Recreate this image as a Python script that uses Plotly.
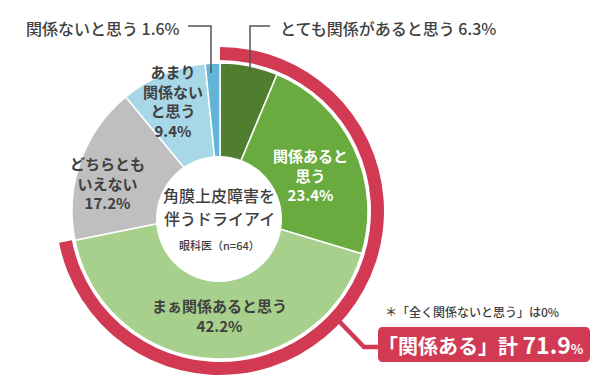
import plotly.graph_objects as go

W, H = 602, 385

# ---- data ----
categories = ['とても関係があると思う', '関係あると思う', 'まぁ関係あると思う',
              'どちらともいえない', 'あまり関係ないと思う', '関係ないと思う']
values = [6.3, 23.4, 42.2, 17.2, 9.4, 1.6]
slice_labels = ['', '関係あると<br>思う', 'まぁ関係あると思う', 'どちらとも<br>いえない',
                'あまり<br>関係ない<br>と思う', '']
related_total = 71.9
related_rest = round(100 - related_total, 1)
title_lines = ['角膜上皮障害を', '伴うドライアイ']
sample_note = '眼科医（n=64）'
zero_note = '＊「全く関係ないと思う」は0%'

colors = ['#4f7f2e', '#6aab3f', '#a7d08c', '#bfbfbf', '#a8d7e8', '#62b5d6']
RED = '#d13a52'
TXT = '#404040'
FONT = 'Noto Sans CJK JP'


def px(x):
    return x / W


def py(y):
    return 1 - y / H


CX, CY = 220, 211
R_PIE = 148
R_RING = 164
R_RING_IN = 151

fig = go.Figure()

# outer red ring (関係ある 合計)
fig.add_trace(go.Pie(
    values=[related_total, related_rest],
    labels=['関係ある', 'その他'],
    marker=dict(colors=[RED, 'rgba(0,0,0,0)'], line=dict(width=0)),
    hole=R_RING_IN / R_RING,
    sort=False, direction='clockwise', rotation=0,
    textinfo='none', hoverinfo='skip', showlegend=False,
    domain=dict(x=[px(CX - R_RING), px(CX + R_RING)],
                y=[py(CY + R_RING), py(CY - R_RING)]),
))

# main pie
fig.add_trace(go.Pie(
    values=values, labels=categories,
    marker=dict(colors=colors, line=dict(color='white', width=1.5)),
    sort=False, direction='clockwise', rotation=0,
    textinfo='none', hoverinfo='skip', showlegend=False,
    domain=dict(x=[px(CX - R_PIE), px(CX + R_PIE)],
                y=[py(CY + R_PIE), py(CY - R_PIE)]),
))

shapes = []
# centre white circle
HX, HY, HR = 219, 219, 63
shapes.append(dict(type='circle', xref='paper', yref='paper',
                   x0=px(HX - HR), x1=px(HX + HR), y0=py(HY + HR), y1=py(HY - HR),
                   fillcolor='white', line=dict(width=0)))


def path(points):
    s = 'M {} {}'.format(px(points[0][0]), py(points[0][1]))
    for x, y in points[1:]:
        s += ' L {} {}'.format(px(x), py(y))
    return s


# leader lines for small slices
shapes.append(dict(type='path', xref='paper', yref='paper',
                   path=path([(188, 26), (211, 26), (211, 73)]),
                   line=dict(color='#555555', width=1.5)))
shapes.append(dict(type='path', xref='paper', yref='paper',
                   path=path([(270, 26), (250, 26), (250, 71)]),
                   line=dict(color='#555555', width=1.5)))

# callout connector
shapes.append(dict(type='path', xref='paper', yref='paper',
                   path=path([(336, 318), (364, 347), (380, 347)]),
                   line=dict(color=RED, width=4.5)))

# rounded callout box
bx0, bx1, by0, by1, rr = 378, 590, 327, 362, 5


def rrect(x0, x1, y0, y1, r):
    pts = [
        ('M', x0 + r, y0), ('L', x1 - r, y0), ('Q', x1, y0, x1, y0 + r),
        ('L', x1, y1 - r), ('Q', x1, y1, x1 - r, y1), ('L', x0 + r, y1),
        ('Q', x0, y1, x0, y1 - r), ('L', x0, y0 + r), ('Q', x0, y0, x0 + r, y0)]
    s = ''
    for p in pts:
        if p[0] == 'Q':
            s += ' Q {} {} {} {}'.format(px(p[1]), py(p[2]), px(p[3]), py(p[4]))
        else:
            s += ' {} {} {}'.format(p[0], px(p[1]), py(p[2]))
    return s + ' Z'


shapes.append(dict(type='path', xref='paper', yref='paper',
                   path=rrect(bx0, bx1, by0, by1, rr),
                   fillcolor=RED, line=dict(width=0)))

annotations = []
# slice labels
label_pos = [None, (310, 175), (219, 315), (107, 183), (173, 101), None]
label_col = [None, 'white', TXT, TXT, TXT, None]
for lab, v, pos, col in zip(slice_labels, values, label_pos, label_col):
    if pos is None:
        continue
    annotations.append(dict(x=px(pos[0]), y=py(pos[1]), xref='paper', yref='paper',
                            text=f'{lab}<br>{v}%', showarrow=False,
                            font=dict(family=FONT, size=15, color=col, weight='bold'),
                            xanchor='center', yanchor='middle', align='center'))

# outside labels for small slices
annotations.append(dict(x=px(182), y=py(28), xref='paper', yref='paper',
                        text=f'{categories[5]} {values[5]}%', showarrow=False,
                        font=dict(family=FONT, size=16, color=TXT, weight=500),
                        xanchor='right', yanchor='middle'))
annotations.append(dict(x=px(278), y=py(28), xref='paper', yref='paper',
                        text=f'{categories[0]} {values[0]}%', showarrow=False,
                        font=dict(family=FONT, size=16, color=TXT, weight=500),
                        xanchor='left', yanchor='middle'))

# centre text
for line, yy in zip(title_lines, [195, 218]):
    annotations.append(dict(x=px(219), y=py(yy), xref='paper', yref='paper',
                            text=line, showarrow=False,
                            font=dict(family=FONT, size=16, color=TXT, weight=500),
                            xanchor='center', yanchor='middle', align='center'))
annotations.append(dict(x=px(219), y=py(245), xref='paper', yref='paper',
                        text=sample_note, showarrow=False,
                        font=dict(family=FONT, size=11, color=TXT, weight=500),
                        xanchor='center', yanchor='middle'))

# notes / callout text
annotations.append(dict(x=px(383), y=py(311), xref='paper', yref='paper',
                        text=zero_note, showarrow=False,
                        font=dict(family=FONT, size=12, color=TXT, weight=500),
                        xanchor='left', yanchor='middle'))
annotations.append(dict(x=px(481), y=py(344), xref='paper', yref='paper',
                        text=('<span style="font-size:20px">「関係ある」計 </span>'
                              f'<span style="font-size:23px">{related_total}</span>'
                              '<span style="font-size:13px">%</span>'),
                        showarrow=False,
                        font=dict(family=FONT, size=20, color='white', weight='bold'),
                        xanchor='center', yanchor='middle'))

fig.update_layout(
    width=W, height=H, margin=dict(l=0, r=0, t=0, b=0),
    paper_bgcolor='white', plot_bgcolor='white',
    shapes=shapes, annotations=annotations, showlegend=False,
    font=dict(family=FONT),
)

fig.write_html('out.html', config={'displayModeBar': False},
               post_script="document.body.style.margin='0';")
